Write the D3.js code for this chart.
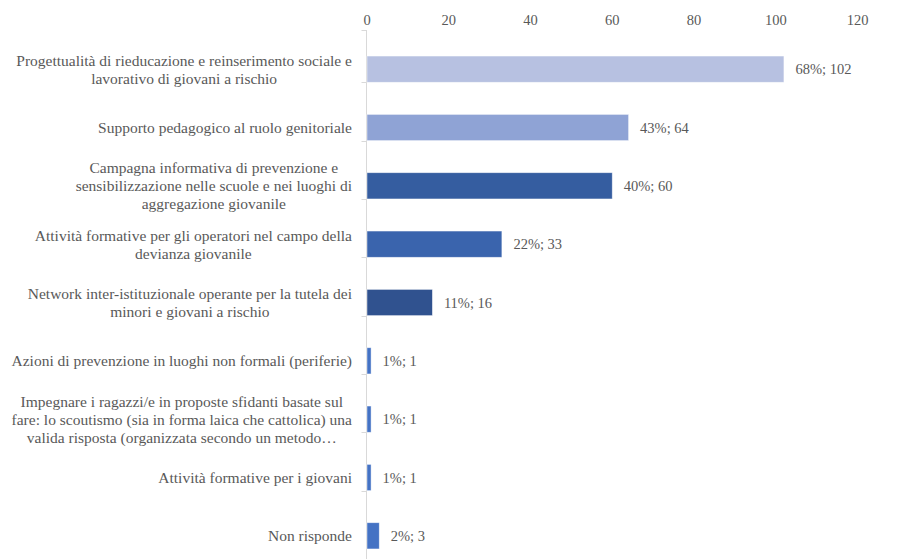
<!DOCTYPE html>
<html>

<head>
    <meta charset="utf-8">
    <style>
        body {
            margin: 0;
            background: #fff;
        }

        svg text {
            font-family: "Liberation Serif", "Times New Roman", Times, "DejaVu Serif", serif;
            fill: #595959;
        }
    </style>
</head>

<body>
    <svg width="897" height="559"></svg>

    <script src="https://d3js.org/d3.v7.min.js"></script>
    <script>

        // chart data
        let categories = [
            ["Progettualità di rieducazione e reinserimento sociale e", "lavorativo di giovani a rischio"],
            ["Supporto pedagogico al ruolo genitoriale"],
            ["Campagna informativa di prevenzione e", "sensibilizzazione nelle scuole e nei luoghi di", "aggregazione giovanile"],
            ["Attività formative per gli operatori nel campo della", "devianza giovanile"],
            ["Network inter-istituzionale operante per la tutela dei", "minori e giovani a rischio"],
            ["Azioni di prevenzione in luoghi non formali (periferie)"],
            ["Impegnare i ragazzi/e in proposte sfidanti basate sul", "fare: lo scoutismo (sia in forma laica che cattolica) una", "valida risposta (organizzata secondo un metodo…"],
            ["Attività formative per i giovani"],
            ["Non risponde"]
        ]
        let counts = [102, 64, 60, 33, 16, 1, 1, 1, 3]
        let percents = [68, 43, 40, 22, 11, 1, 1, 1, 2]
        let barColors = ["#b7c1e1", "#8fa3d5", "#355da0", "#3a64ad", "#30528f", "#4472c4", "#4472c4", "#4472c4", "#4472c4"]
        let xTicks = [0, 20, 40, 60, 80, 100, 120]

        let fontFam = '"Liberation Serif", "Times New Roman", Times, "DejaVu Serif", serif'
        let catSize = "15.5px"
        let numSize = "14.5px"

        let svg = d3.select("svg")

        let x = d3.scaleLinear()
            .domain([0, 120])
            .range([366.5, 857])

        let y = d3.scaleBand()
            .domain(d3.range(categories.length))
            .range([40, 565])
            .paddingInner(0.55)
            .paddingOuter(0.275)

        // top value axis (labels only)
        let xAxis = svg.append("g")
            .attr("transform", "translate(0,20)")
            .call(d3.axisTop(x).tickValues(xTicks).tickSize(0).tickPadding(0))
            .attr("font-family", fontFam)
            .attr("font-size", numSize)
        xAxis.select(".domain").remove()
        xAxis.selectAll("text")
            .attr("dy", "0.32em")
            .style("fill", "#595959")

        // category axis line + ticks
        let step = y.step()
        svg.append("line")
            .attr("x1", x(0)).attr("x2", x(0))
            .attr("y1", 30).attr("y2", 559)
            .style("stroke", "#d9d9d9")
            .style("stroke-width", 1)

        let tickYs = [30].concat(d3.range(1, categories.length).map(i => y(i) - step * y.paddingInner()))
        svg.selectAll(".ytick")
            .data(tickYs)
            .join("line")
            .attr("x1", x(0) - 5).attr("x2", x(0))
            .attr("y1", d => Math.round(d) + 0.5).attr("y2", d => Math.round(d) + 0.5)
            .style("stroke", "#d9d9d9")

        // bars
        svg.selectAll(".bar")
            .data(counts)
            .join("rect")
            .attr("x", x(0) + 0.5)
            .attr("y", (d, i) => y(i))
            .attr("width", d => x(d) - x(0))
            .attr("height", y.bandwidth())
            .style("fill", (d, i) => barColors[i])
            .style("stroke", "#ffffff")
            .style("stroke-opacity", 0.6)
            .style("stroke-width", 0.75)

        // value labels
        svg.selectAll(".val")
            .data(counts)
            .join("text")
            .attr("x", d => x(d) + 12)
            .attr("y", (d, i) => y(i) + y.bandwidth() / 2)
            .attr("dy", "0.35em")
            .style("font-family", fontFam)
            .style("font-size", numSize)
            .text((d, i) => percents[i] + "%; " + d)

        // category labels
        let lineH = 18
        let labels = svg.selectAll(".cat")
            .data(categories)
            .join("text")
            .attr("text-anchor", "middle")
            .style("font-family", fontFam)
            .style("font-size", catSize)

        labels.each(function (lines, i) {
            let t = d3.select(this)
            let cy = y(i) + y.bandwidth() / 2
            let top = cy - (lines.length - 1) * lineH / 2
            t.selectAll("tspan")
                .data(lines)
                .join("tspan")
                .attr("y", (d, j) => top + j * lineH)
                .attr("dy", "0.35em")
                .text(d => d)
        })

        // center multi-line labels on the widest line, right aligned at 352
        labels.each(function () {
            let t = d3.select(this)
            let w = d3.max(t.selectAll("tspan").nodes(), n => n.getComputedTextLength())
            t.selectAll("tspan").attr("x", 352 - w / 2)
        })

    </script>
</body>

</html>
